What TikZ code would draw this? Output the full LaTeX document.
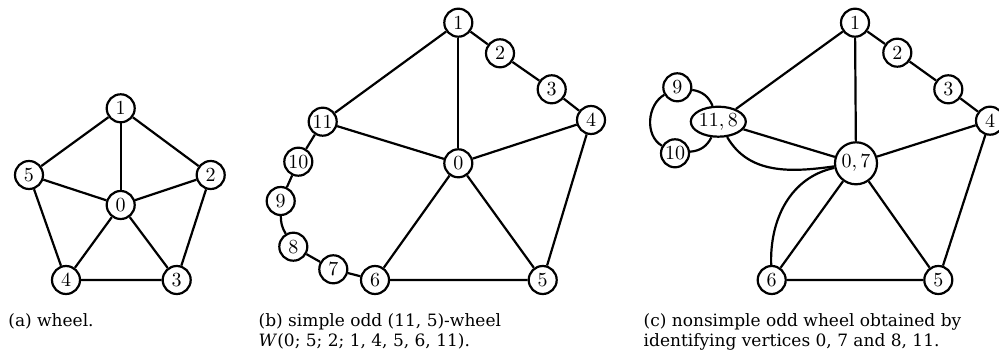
\documentclass[tikz,border=0pt]{standalone}
\usepackage{fontspec}
\newfontfamily\capfont{DejaVu Serif}
\usetikzlibrary{shapes.geometric}
\tikzset{
  vtx/.style={circle,draw,line width=1.1pt,fill=white,inner sep=0pt,minimum size=14pt,font=\fontsize{10}{12}\selectfont},
  bigvtx/.style={vtx,minimum size=21pt},
  ovtx/.style={ellipse,draw,line width=1.1pt,fill=white,inner sep=0pt,minimum width=27.5pt,minimum height=15pt,font=\fontsize{10}{12}\selectfont},
  edge/.style={line width=1.1pt},
  caption/.style={anchor=base west,align=left,inner sep=0pt,font=\capfont\fontsize{8.5}{10}\selectfont}
}
\begin{document}
\begin{tikzpicture}[x=0.5pt,y=-0.5pt]
\useasboundingbox (0,0) rectangle (999,357);

% (a) wheel
\node[vtx] (a0) at (120.7,205) {0};
\node[vtx] (a1) at (120.7,108.3) {1};
\node[vtx] (a2) at (210.7,175) {2};
\node[vtx] (a3) at (176.7,280) {3};
\node[vtx] (a4) at (66,280) {4};
\node[vtx] (a5) at (29,175) {5};
\draw[edge] (a1) -- (a2) (a2) -- (a3) (a3) -- (a4) (a4) -- (a5) (a5) -- (a1);
\foreach \v in {a1,a2,a3,a4,a5} \draw[edge] (a0) -- (\v);
\node[caption] (capa) at (8,326) {(a) wheel.};

% (b) simple odd wheel
\node[vtx] (b0) at (458.3,163.3) {0};
\node[vtx] (b1) at (458.3,22.7) {1};
\node[vtx] (b2) at (500,53.3) {2};
\node[vtx] (b3) at (551.7,89.3) {3};
\node[vtx] (b4) at (591,120) {4};
\node[vtx] (b5) at (542.7,280) {5};
\node[vtx] (b6) at (375,280) {6};
\node[vtx] (b7) at (333.3,269.3) {7};
\node[vtx] (b8) at (293.3,246.7) {8};
\node[vtx] (b9) at (280.7,201) {9};
\node[vtx] (b10) at (298.3,161.7) {10};
\node[vtx] (b11) at (322.7,121.7) {11};
\draw[edge] (b1) -- (b2) (b2) -- (b3) (b3) -- (b4) (b4) -- (b5) (b5) -- (b6)
  (b1) -- (b11) (b11) -- (b10) (b10) -- (b9) (b8) -- (b7) (b7) -- (b6);
\draw[edge] (b9) to[bend right=15] (b8);
\foreach \v in {b1,b4,b5,b6,b11} \draw[edge] (b0) -- (\v);
\node[caption] (capb) at (258.3,346) {(b) simple odd (11, 5)-wheel\\\textit{W}(0; 5; 2; 1, 4, 5, 6, 11).};

% (c) nonsimple odd wheel
\node[bigvtx] (c07) at (856,163.3) {$0,7$};
\node[vtx] (c1) at (855,22.7) {1};
\node[vtx] (c2) at (897.3,52.7) {2};
\node[vtx] (c3) at (948.3,89.3) {3};
\node[vtx] (c4) at (990,120.7) {4};
\node[vtx] (c5) at (938.3,280) {5};
\node[vtx] (c6) at (771.7,280) {6};
\node[vtx] (c9) at (677.3,87.3) {9};
\node[vtx] (c10) at (675,153.3) {10};
\node[ovtx] (c118) at (718.3,121.7) {$11,8$};
\draw[edge] (c1) -- (c2) (c2) -- (c3) (c3) -- (c4) (c4) -- (c5) (c5) -- (c6)
  (c1) -- (c118);
\foreach \v in {c1,c4,c5,c6,c118} \draw[edge] (c07) -- (\v);
\draw[edge] (c9) to[out=210,in=150] (c10);
\draw[edge] (c9) to[bend left=30] (c118);
\draw[edge] (c10) to[bend right=30] (c118);
\draw[edge] (c118.-60) to[out=-60,in=188] (c07.188);
\draw[edge] (c07.192) to[out=192,in=92] (c6);
\node[caption] (capc) at (643.3,346) {(c) nonsimple odd wheel obtained by\\identifying vertices 0, 7 and 8, 11.};
\end{tikzpicture}
\end{document}
